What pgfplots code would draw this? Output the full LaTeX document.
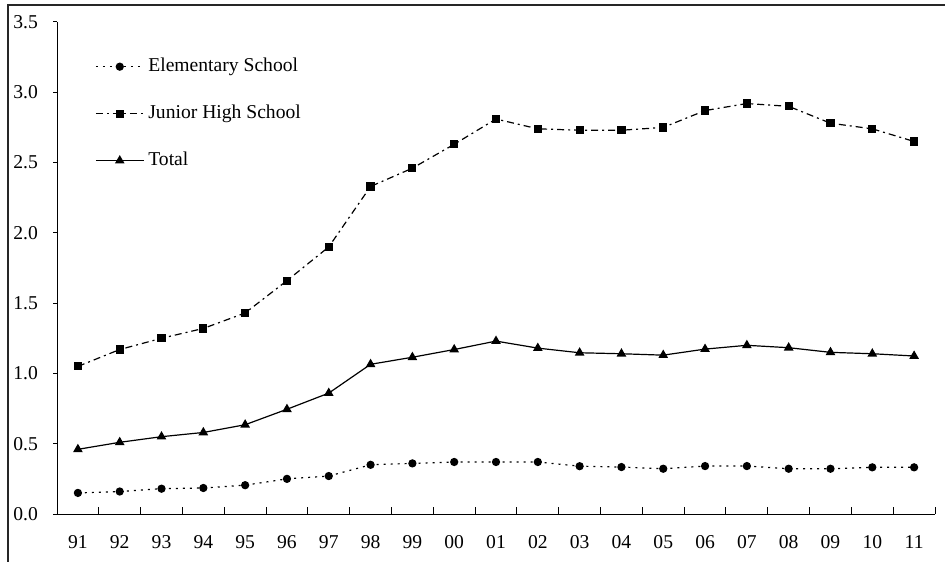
\documentclass[border=0pt]{standalone}
\usepackage{fontspec}
\setmainfont{Liberation Serif}
\usepackage{pgfplots}
\usepackage{pgfplotstable}
\pgfplotsset{compat=1.18}

% x = position of year 91..11
\pgfplotstableread{
x elem junior total
0  0.15 1.05 0.46
1  0.16 1.17 0.51
2  0.18 1.25 0.55
3  0.185 1.32 0.58
4  0.205 1.43 0.635
5  0.25 1.66 0.745
6  0.27 1.90 0.86
7  0.35 2.33 1.065
8  0.36 2.46 1.115
9  0.37 2.63 1.17
10 0.37 2.81 1.23
11 0.37 2.74 1.18
12 0.34 2.73 1.147
13 0.334 2.73 1.14
14 0.322 2.75 1.13
15 0.341 2.87 1.173
16 0.341 2.92 1.20
17 0.322 2.90 1.183
18 0.322 2.78 1.15
19 0.332 2.74 1.14
20 0.332 2.65 1.124
}\datatable

\begin{document}
\begin{tikzpicture}[font=\fontsize{9.8}{11}\selectfont]
\useasboundingbox (-28.5pt,-23.5pt) rectangle (444pt,257pt);
\draw[line width=0.9pt, black!85] (-24.5pt,-30pt) -- (-24.5pt,254.5pt) -- (450pt,254.5pt);
\begin{axis}[
  scale only axis,
  width=439pt, height=246pt,
  at={(0pt,0pt)}, anchor=south west,
  xmin=-0.5, xmax=20.5,
  ymin=0, ymax=3.5,
  axis x line*=bottom, axis y line*=left,
  axis line style={-, line width=0.5pt},
  xtick={0,...,20},
  xticklabels={91,92,93,94,95,96,97,98,99,00,01,02,03,04,05,06,07,08,09,10,11},
  major x tick style={draw=none},
  minor xtick={-0.5,0.5,...,20.5},
  minor tick length=3.5pt,
  tick align=inside,
  ytick={0,0.5,...,3.5},
  major tick length=2pt,
  y tick style={xshift=-2pt},
  tick style={black, line width=0.5pt},
  yticklabel style={/pgf/number format/fixed, /pgf/number format/fixed zerofill,
    /pgf/number format/precision=1, xshift=-6pt},
  xticklabel style={yshift=-7pt},
  /pgf/number format/assume math mode=true,
  legend cell align=left,
  legend style={draw=none, fill=none, at={(0.043,0.935)}, anchor=north west,
    row sep=11.2pt, inner sep=0pt},
  legend image code/.code={
    \draw[mark repeat=2, mark phase=2] plot coordinates {(0pt,0pt) (12pt,0pt) (24pt,0pt)};},
  clip=false,
]
\addplot[black, line width=0.6pt, dash pattern=on 1pt off 2.5pt,
  mark=*, mark size=1.75pt, mark options={solid}]
  table[x=x, y=elem] {\datatable};
\addlegendentry{Elementary School}
\addplot[black, line width=0.6pt, dash pattern=on 3.5pt off 2pt on 1pt off 2pt,
  mark=square*, mark size=1.75pt, mark options={solid}]
  table[x=x, y=junior] {\datatable};
\addlegendentry{Junior High School}
\addplot[black, line width=0.6pt, solid,
  mark=triangle*, mark size=2.2pt, mark options={solid}]
  table[x=x, y=total] {\datatable};
\addlegendentry{Total}
\end{axis}
\end{tikzpicture}
\end{document}
